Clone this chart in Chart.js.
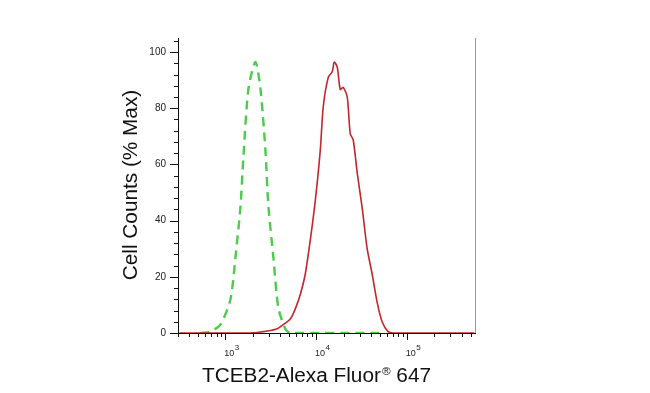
<!DOCTYPE html>
<html>
<head>
<meta charset="utf-8">
<script src="https://cdn.jsdelivr.net/npm/chart.js@4/dist/chart.umd.min.js"></script>
<style>
  html, body { margin: 0; padding: 0; background: #fff; }
  #wrap { width: 650px; height: 393px; }
</style>
</head>
<body>
<div id="wrap"><canvas id="histCanvas" width="650" height="393"></canvas></div>
<script>
// isotype control (green dashed) - fluorescence vs % max
const greenX = [531, 683, 881, 1135, 1288, 1462, 1578, 1791, 2138, 2426, 2754, 2972, 3367, 3820, 4560, 5177, 50000];
const greenY = [0, 0.5, 3, 12, 27, 45, 63, 87, 96.5, 87, 65, 45, 27, 9, 1.5, 0, 0];

// TCEB2 stained (red solid)
const redX = [310, 1884, 2895, 3726, 4335, 5177, 5875, 6667, 7566, 8587, 9745, 11066, 11940, 13550, 14990, 15780,
              17030, 18370, 19820, 21930, 23660, 25530, 28250, 32020, 36340, 41240, 46790, 53100, 61780, 70100, 550000];
const redY = [0, 0, 0.7, 1.5, 3, 5, 8.6, 13.7, 21, 33, 47, 65, 80.6, 91, 93, 96.4,
              94.6, 86.7, 87.4, 84, 71, 68.7, 57, 44.6, 30, 21, 11, 4, 0.5, 0, 0];

const xMajorTicks = [1e3, 1e4, 1e5];
const xTickExponents = ['3', '4', '5'];
const yMajorTicks = [0, 20, 40, 60, 80, 100];
const xMin = 300, xMax = 560000;
const yMin = 0, yMax = 105;

const xTitle = ['TCEB2-Alexa Fluor', '®', ' 647'];
const yTitle = 'Cell Counts (% Max)';

const FONT = '"Liberation Sans", Arial, sans-serif';

function toPoints(xs, ys) {
    return xs.map((x, i) => ({ x: x, y: ys[i] }));
}

// tick marks, x labels with exponent, titles
const axisDecor = {
    id: 'axisDecor',
    afterDraw(chart) {
        const ctx = chart.ctx;
        const xs = chart.scales.x, ys = chart.scales.y;
        const area = chart.chartArea;
        ctx.save();
        ctx.strokeStyle = '#111';
        ctx.lineWidth = 1;

        // y ticks, minor every 4
        for (let v = 0; v <= 104; v += 4) {
            const py = Math.round(ys.getPixelForValue(v)) + 0.5;
            const len = (v % 20 === 0) ? 8 : 4;
            ctx.beginPath();
            ctx.moveTo(area.left - len, py);
            ctx.lineTo(area.left, py);
            ctx.stroke();
        }

        // x ticks, log minors
        for (let dec = 100; dec <= 1e5; dec *= 10) {
            for (let m = 1; m <= 9; m++) {
                const v = dec * m;
                if (v < xMin || v > xMax) continue;
                const px = Math.round(xs.getPixelForValue(v)) + 0.5;
                const len = (m === 1) ? 7 : 4;
                ctx.beginPath();
                ctx.moveTo(px, area.bottom);
                ctx.lineTo(px, area.bottom + len);
                ctx.stroke();
            }
        }

        // x tick labels 10^n
        ctx.fillStyle = '#222';
        ctx.textBaseline = 'alphabetic';
        xMajorTicks.forEach((v, i) => {
            const px = xs.getPixelForValue(v);
            ctx.font = '9px ' + FONT;
            const wb = ctx.measureText('10').width;
            ctx.font = '8px ' + FONT;
            const we = ctx.measureText(xTickExponents[i]).width;
            const lx = px + 6 - (wb + we) / 2;
            ctx.font = '9px ' + FONT;
            ctx.fillText('10', lx, 356);
            ctx.font = '8px ' + FONT;
            ctx.fillText(xTickExponents[i], lx + wb + 0.5, 350);
        });

        // right frame line
        ctx.strokeStyle = '#999';
        ctx.beginPath();
        ctx.moveTo(area.right + 0.5, area.top);
        ctx.lineTo(area.right + 0.5, area.bottom);
        ctx.stroke();

        // x title with superscript ®
        const stretch = 1.065;
        ctx.fillStyle = '#111';
        ctx.font = '19.5px ' + FONT;
        const w0 = ctx.measureText(xTitle[0]).width;
        const w2 = ctx.measureText(xTitle[2]).width;
        ctx.font = '11px ' + FONT;
        const w1 = ctx.measureText(xTitle[1]).width + 1;
        const total = (w0 + w1 + w2) * stretch;
        ctx.save();
        ctx.translate(316.5 - total / 2, 382);
        ctx.scale(stretch, 1);
        ctx.font = '19.5px ' + FONT;
        ctx.fillText(xTitle[0], 0, 0);
        ctx.font = '11px ' + FONT;
        ctx.fillText(xTitle[1], w0 + 1, -7);
        ctx.font = '19.5px ' + FONT;
        ctx.fillText(xTitle[2], w0 + w1, 0);
        ctx.restore();

        // y title
        ctx.translate(137, 185);
        ctx.rotate(-Math.PI / 2);
        ctx.scale(stretch, 1);
        ctx.textAlign = 'center';
        ctx.font = '19.5px ' + FONT;
        ctx.fillText(yTitle, 0, 0);
        ctx.restore();
    }
};

new Chart(document.getElementById('histCanvas'), {
    type: 'line',
    data: {
        datasets: [
            {
                label: 'TCEB2',
                data: toPoints(redX, redY),
                borderColor: '#c1272d',
                borderWidth: 1.6,
                pointRadius: 0,
                fill: false,
                tension: 0.25
            },
            {
                label: 'Isotype',
                data: toPoints(greenX, greenY),
                borderColor: '#4ccb4c',
                borderWidth: 2.4,
                borderDash: [9, 6],
                pointRadius: 0,
                fill: false,
                tension: 0.25
            }
        ]
    },
    options: {
        responsive: false,
        animation: false,
        layout: { padding: { left: 0, right: 175, top: 38, bottom: 0 } },
        plugins: { legend: { display: false }, tooltip: { enabled: false } },
        scales: {
            x: {
                type: 'logarithmic',
                min: xMin,
                max: xMax,
                grid: { display: false },
                border: { display: true, color: '#111', width: 1 },
                afterBuildTicks: (scale) => { scale.ticks = xMajorTicks.map(v => ({ value: v })); },
                afterFit: (scale) => { scale.height = 60; },
                ticks: { display: false }
            },
            y: {
                min: yMin,
                max: yMax,
                grid: { display: false },
                border: { display: true, color: '#111', width: 1 },
                afterBuildTicks: (scale) => { scale.ticks = yMajorTicks.map(v => ({ value: v })); },
                afterFit: (scale) => { scale.width = 178; },
                ticks: {
                    autoSkip: false,
                    padding: 4,
                    color: '#222',
                    font: { size: 10, family: FONT }
                }
            }
        }
    },
    plugins: [axisDecor]
});
</script>
</body>
</html>
